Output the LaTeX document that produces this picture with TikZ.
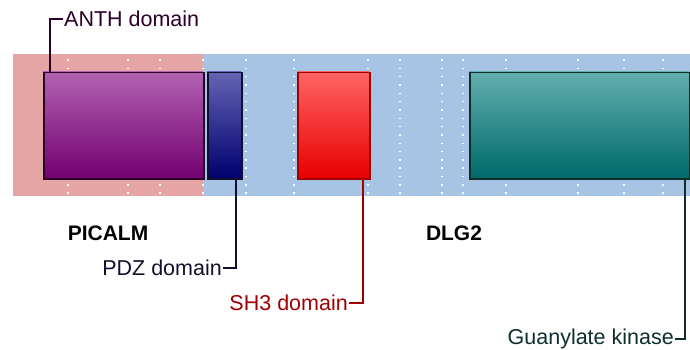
\documentclass[tikz,border=0pt]{standalone}
\usepackage{fontspec}
\setmainfont{Liberation Sans}
\definecolor{pinkbg}{HTML}{E5A5A5}
\definecolor{bluebg}{HTML}{A8C4E4}
\definecolor{anthT}{HTML}{B262B2}
\definecolor{anthB}{HTML}{730070}
\definecolor{anthD}{HTML}{2A0028}
\definecolor{pdzT}{HTML}{6464B4}
\definecolor{pdzB}{HTML}{000070}
\definecolor{pdzD}{HTML}{10102E}
\definecolor{shT}{HTML}{FF6464}
\definecolor{shB}{HTML}{E80000}
\definecolor{shD}{HTML}{A00000}
\definecolor{gkT}{HTML}{62AEAE}
\definecolor{gkB}{HTML}{006A6A}
\definecolor{gkD}{HTML}{0E2E2E}
\tikzset{
  lead/.style={line width=2pt},
  lbl/.style={inner sep=1pt, font=\fontsize{21.5}{23}\selectfont},
  gene/.style={inner sep=0pt, font=\fontsize{21}{23}\selectfont\bfseries},
  dots/.style={white, line width=1.6pt, dash pattern=on 1.6pt off 6.73pt}
}
\begin{document}
\begin{tikzpicture}[x=1pt,y=-1pt]
\useasboundingbox (0,0) rectangle (690,350);
\fill[pinkbg] (13,54) rectangle (203,196);
\fill[bluebg] (203,54) rectangle (690,196);
\foreach \x in {68,128,160,203,246,294,368,400,442,463,506,578,624,663}
  \draw[dots] (\x,59.2) -- (\x,196);
% domains
\shade[top color=anthT, bottom color=anthB] (43,72) rectangle (203,178);
\node[draw=anthD, line width=1.5pt, inner sep=0pt, minimum width=160pt, minimum height=106pt, anchor=north west] (anth) at (43,72) {};
\shade[top color=pdzT, bottom color=pdzB] (207,72) rectangle (241,178);
\node[draw=pdzD, line width=1.5pt, inner sep=0pt, minimum width=34pt, minimum height=106pt, anchor=north west] (pdz) at (207,72) {};
\shade[top color=shT, bottom color=shB] (297,72) rectangle (369,178);
\node[draw=shD, line width=1.5pt, inner sep=0pt, minimum width=72pt, minimum height=106pt, anchor=north west] (sh3) at (297,72) {};
\shade[top color=gkT, bottom color=gkB] (469,72) rectangle (689,178);
\node[draw=gkD, line width=1.5pt, inner sep=0pt, minimum width=220pt, minimum height=106pt, anchor=north west] (gk) at (469,72) {};
% labels
\node[lbl, text=anthD, anchor=west] (lanth) at (63,19) {ANTH domain};
\node[lbl, text=pdzD, anchor=east] (lpdz) at (223,268) {PDZ domain};
\node[lbl, text=shD, anchor=east] (lsh3) at (349,303) {SH3 domain};
\node[lbl, text=gkD, anchor=east] (lgk) at (675,339) {Guanylate kinase};
\node[gene] (picalm) at (108,233) {PICALM};
\node[gene] (dlg2) at (454,233) {DLG2};
% leaders
\draw[lead, anthD] (anth.north west) ++(7,0) |- (lanth.west);
\draw[lead, pdzD] (pdz.south east) ++(-7,0) |- (lpdz.east);
\draw[lead, shD] (sh3.south east) ++(-8,0) |- (lsh3.east);
\draw[lead, gkD] (gk.south east) ++(-6,0) |- (lgk.east);
\end{tikzpicture}
\end{document}
